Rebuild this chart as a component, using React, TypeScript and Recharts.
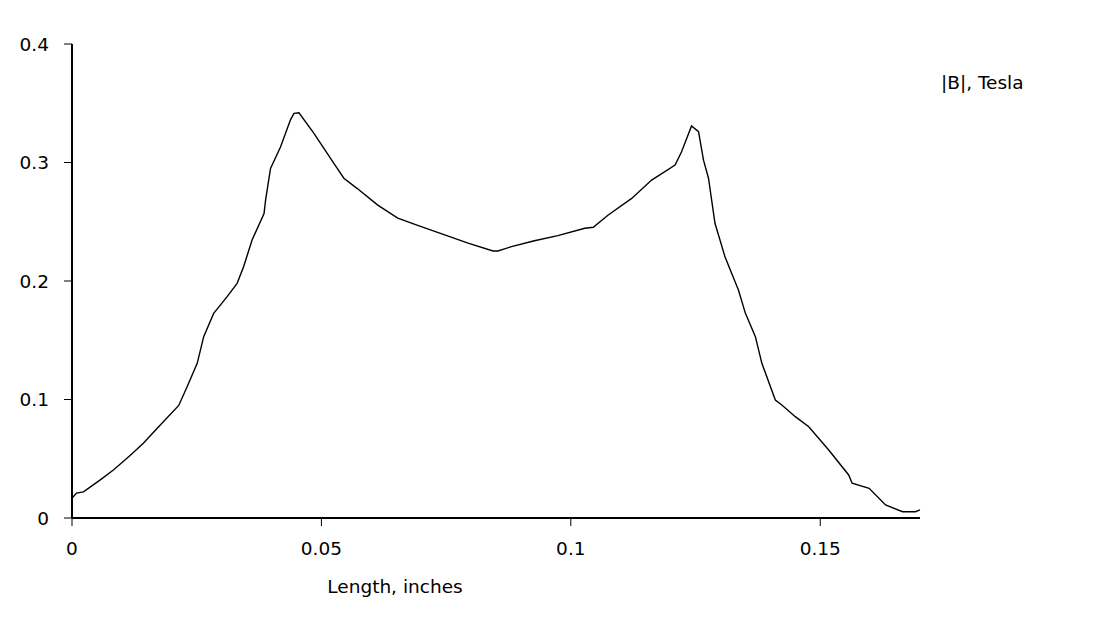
import React from "react";
import { LineChart, Line, XAxis, YAxis, Legend } from "recharts";

// values
const lengthInches = [
  0, 0.0009, 0.0023, 0.0056, 0.0083, 0.0117, 0.0143, 0.0177, 0.0214, 0.0231,
  0.0251, 0.0264, 0.0284, 0.0311, 0.0331, 0.0344, 0.0361, 0.0385, 0.0388,
  0.0398, 0.0418, 0.0438, 0.0445, 0.0455, 0.0485, 0.0505, 0.0525, 0.0545,
  0.0572, 0.0613, 0.0653, 0.0693, 0.074, 0.0794, 0.0844, 0.0854, 0.0881,
  0.0927, 0.0974, 0.1028, 0.1045, 0.1075, 0.1122, 0.1162, 0.1209, 0.1222,
  0.1242, 0.1256, 0.1266, 0.1276, 0.1289, 0.1309, 0.1336, 0.135, 0.137,
  0.1383, 0.141, 0.1423, 0.145, 0.1477, 0.1517, 0.1557, 0.1564, 0.1598,
  0.1631, 0.1665, 0.1691, 0.17,
];

const fieldTesla = [
  0.0166, 0.021, 0.022, 0.032, 0.0405, 0.053, 0.063, 0.0785, 0.095, 0.111,
  0.1305, 0.153, 0.1727, 0.1868, 0.198, 0.212, 0.2346, 0.257, 0.268, 0.295,
  0.313, 0.336, 0.3415, 0.342, 0.3246, 0.312, 0.2993, 0.2867, 0.278, 0.264,
  0.253, 0.247, 0.24, 0.232, 0.2253, 0.2253, 0.229, 0.234, 0.2383, 0.2445,
  0.2453, 0.2557, 0.2697, 0.2852, 0.2979, 0.309, 0.3308, 0.326, 0.302,
  0.2867, 0.2487, 0.2205, 0.1924, 0.1727, 0.153, 0.1305, 0.0996, 0.0954,
  0.0855, 0.077, 0.0574, 0.0363, 0.0293, 0.025, 0.011, 0.0053, 0.0053, 0.0068,
];

const xTicks = [0, 0.05, 0.1, 0.15];
const xTickLabels = ["0", "0.05", "0.1", "0.15"];
const yTicks = [0, 0.1, 0.2, 0.3, 0.4];
const yTickLabels = ["0", "0.1", "0.2", "0.3", "0.4"];

const seriesName = "|B|, Tesla";
const xTitle = "Length, inches";

const data = lengthInches.map((x, i) => ({ x, b: fieldTesla[i] }));

const tickStyle = { fill: "#000", fontSize: 18.5 };

export default function App() {
  return (
    <div style={{ width: 1097, height: 614, fontFamily: "DejaVu Sans", position: "relative" }}>
      <LineChart
        width={1097}
        height={614}
        data={data}
        margin={{ top: 36, right: 185, bottom: 0, left: 0 }}
      >
        <XAxis
          dataKey="x"
          type="number"
          domain={[0, 0.17]}
          ticks={xTicks}
          tickFormatter={(v: number) => xTickLabels[xTicks.indexOf(v)]}
          height={104}
          tickSize={8}
          tickMargin={16}
          tick={tickStyle}
          axisLine={{ stroke: "#000", strokeWidth: 2 }}
          tickLine={{ stroke: "#000", strokeWidth: 1 }}
          label={{
            value: xTitle,
            position: "insideBottom",
            offset: 29,
            dx: -101,
            fill: "#000",
            fontSize: 18.5,
          }}
        />
        <YAxis
          type="number"
          domain={[0, 0.4]}
          ticks={yTicks}
          tickFormatter={(v: number) => yTickLabels[yTicks.indexOf(v)]}
          width={64}
          tickSize={8}
          tickMargin={15}
          tick={tickStyle}
          axisLine={{ stroke: "#000", strokeWidth: 2 }}
          tickLine={{ stroke: "#000", strokeWidth: 1 }}
        />
        <Legend
          layout="vertical"
          align="center"
          verticalAlign="middle"
          wrapperStyle={{ left: 933, top: 64, width: "auto", height: "auto" }}
          content={() => (
            <span style={{ fontSize: 18.5, color: "#000", whiteSpace: "nowrap", lineHeight: "21px" }}>
              {seriesName}
            </span>
          )}
        />
        <Line
          type="linear"
          dataKey="b"
          name={seriesName}
          stroke="#000"
          strokeWidth={1.4}
          dot={false}
          isAnimationActive={false}
        />
      </LineChart>
    </div>
  );
}
